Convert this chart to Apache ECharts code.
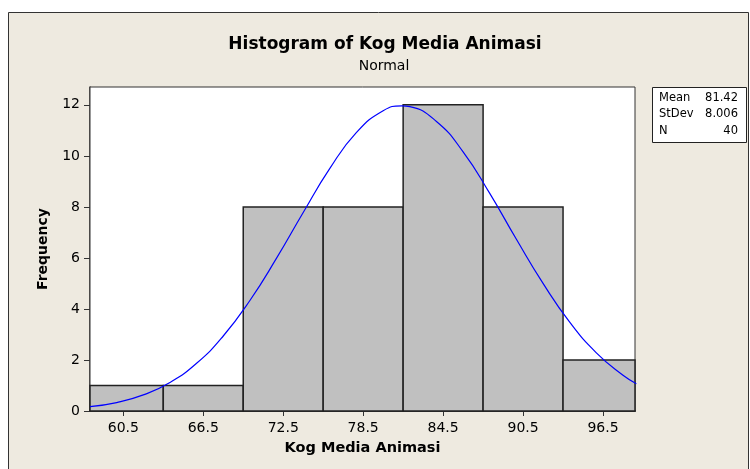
<!DOCTYPE html>
<html>
<head>
<meta charset="utf-8">
<script src="https://cdn.jsdelivr.net/npm/echarts@6/dist/echarts.min.js"></script>
<style>
  html, body { margin: 0; padding: 0; background: #fff; }
  #main { width: 750px; height: 469px; }
</style>
</head>
<body>
<div id="main"></div>
<script>
// histogram bins (lower edge, upper edge) and counts
var binLo = [57.5, 63.5, 69.5, 75.5, 81.5, 87.5, 93.5];
var binHi = [63.5, 69.5, 75.5, 81.5, 87.5, 93.5, 99.5];
var counts = [1, 1, 8, 8, 12, 8, 2];

// fitted normal curve
var curveX = [58, 60, 62, 64, 66, 68, 70, 72, 74, 76, 78, 80, 81.4, 82, 84, 86, 88, 90, 92, 94, 96, 98, 99];
var curveY = [0.17, 0.33, 0.63, 1.12, 1.87, 2.94, 4.33, 5.99, 7.78, 9.51, 10.92, 11.77, 11.96, 11.93, 11.35, 10.16, 8.53, 6.73, 5.0, 3.48, 2.28, 1.4, 1.07];

var xTicks = [60.5, 66.5, 72.5, 78.5, 84.5, 90.5, 96.5];
var yTicks = [0, 2, 4, 6, 8, 10, 12];

var statLabels = ['Mean', 'StDev', 'N'];
var statValues = ['81.42', '8.006', '40'];

var font = 'DejaVu Sans';

var barData = binLo.map(function (lo, i) { return [lo, binHi[i], counts[i]]; });
var lineData = curveX.map(function (x, i) { return [x, curveY[i]]; });

var chart = echarts.init(document.getElementById('main'));

var graphics = [
  {
    type: 'rect', z: -10,
    shape: { x: 8.5, y: 12.5, width: 740, height: 470 },
    style: { fill: '#EEEAE0', stroke: '#333', lineWidth: 1 }
  },
  {
    type: 'text', x: 385, y: 45, z: 5,
    style: { text: 'Histogram of Kog Media Animasi', font: 'bold 17px "' + font + '"', fill: '#000', align: 'center', verticalAlign: 'middle' }
  },
  {
    type: 'text', x: 384, y: 66, z: 5,
    style: { text: 'Normal', font: '14px "' + font + '"', fill: '#000', align: 'center', verticalAlign: 'middle' }
  },
  {
    type: 'rect', z: 5,
    shape: { x: 652.5, y: 87.5, width: 94, height: 55 },
    style: { fill: '#fff', stroke: '#222', lineWidth: 1 }
  }
];
statLabels.forEach(function (s, i) {
  var y = 98 + i * 16.5;
  graphics.push({
    type: 'text', x: 659, y: y, z: 6,
    style: { text: s, font: '11.5px "' + font + '"', fill: '#000', align: 'left', verticalAlign: 'middle' }
  });
  graphics.push({
    type: 'text', x: 738, y: y, z: 6,
    style: { text: statValues[i], font: '11.5px "' + font + '"', fill: '#000', align: 'right', verticalAlign: 'middle' }
  });
});

var option = {
  backgroundColor: '#fff',
  animation: false,
  textStyle: { fontFamily: font },
  graphic: graphics,
  grid: {
    left: 90, top: 87, width: 545, height: 324,
    show: true, backgroundColor: '#fff', borderColor: '#333', borderWidth: 1,
    z: 1
  },
  xAxis: {
    type: 'value', min: 58, max: 98.9,
    name: 'Kog Media Animasi', nameLocation: 'middle', nameGap: 30,
    nameTextStyle: { fontFamily: font, fontWeight: 'bold', fontSize: 14.5, color: '#000' },
    axisLine: { show: true, lineStyle: { color: '#333', width: 2 } },
    axisTick: { show: true, length: 5, customValues: xTicks, lineStyle: { color: '#333', width: 1 } },
    axisLabel: { customValues: xTicks, margin: 10, fontSize: 14, color: '#000', fontFamily: font },
    splitLine: { show: false }
  },
  yAxis: {
    type: 'value', min: 0, max: 12.7,
    name: 'Frequency', nameLocation: 'middle', nameGap: 40,
    nameTextStyle: { fontFamily: font, fontWeight: 'bold', fontSize: 14, color: '#000' },
    axisLine: { show: true, lineStyle: { color: '#333', width: 1.5 } },
    axisTick: { show: true, length: 6, customValues: yTicks, lineStyle: { color: '#333', width: 1 } },
    axisLabel: { customValues: yTicks, margin: 10, fontSize: 14, color: '#000', fontFamily: font },
    splitLine: { show: false }
  },
  series: [
    {
      type: 'custom',
      z: 2,
      data: barData,
      encode: { x: [0, 1], y: 2 },
      renderItem: function (params, api) {
        var p0 = api.coord([api.value(0), 0]);
        var p1 = api.coord([api.value(1), api.value(2)]);
        var cs = params.coordSys;
        var shape = echarts.graphic.clipRectByRect(
          { x: p0[0], y: p1[1], width: p1[0] - p0[0], height: p0[1] - p1[1] },
          { x: cs.x, y: cs.y, width: cs.width, height: cs.height }
        );
        if (!shape) return;
        return {
          type: 'rect',
          shape: shape,
          style: { fill: '#C0C0C0', stroke: '#222', lineWidth: 1.5 }
        };
      }
    },
    {
      type: 'line',
      z: 3,
      data: lineData,
      smooth: true,
      symbol: 'none',
      clip: true,
      lineStyle: { color: '#0000FF', width: 1.2 }
    }
  ]
};
chart.setOption(option);
</script>
</body>
</html>
